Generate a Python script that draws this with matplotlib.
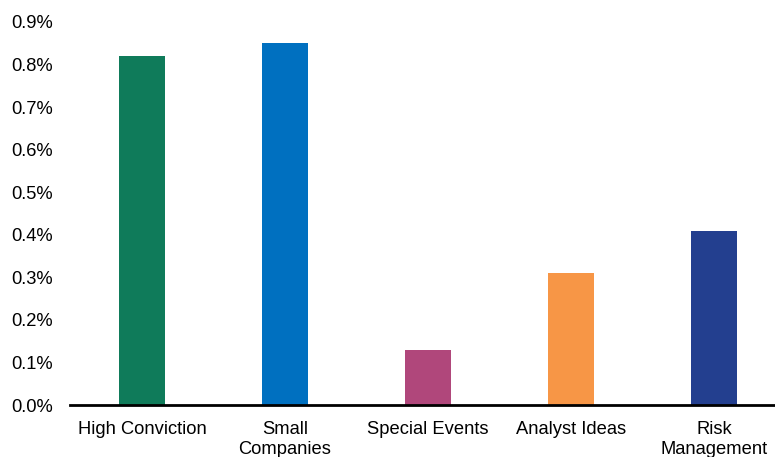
import matplotlib.pyplot as plt
from matplotlib.ticker import FuncFormatter

plt.rcParams['font.family'] = ['Liberation Sans', 'DejaVu Sans']

categories = ["High Conviction", "Small\nCompanies", "Special Events", "Analyst Ideas", "Risk\nManagement"]
values = [0.82, 0.85, 0.13, 0.31, 0.41]
colors = ["#0F7B5A", "#0070C0", "#B0477B", "#F79646", "#233F8F"]

W, H = 775, 457
fig = plt.figure(figsize=(W / 100, H / 100), dpi=100)
# axes spans past the right edge, like the original chart
ax = fig.add_axes([70.5 / W, 1 - 405 / H, 715 / W, (405 - 22) / H])

x = range(len(categories))
ax.bar(x, values, width=0.315, color=colors)
ax.set_xlim(-0.5, len(categories) - 0.5)
ax.set_ylim(0, 0.9)
ax.set_yticks([i / 10 for i in range(10)])
ax.yaxis.set_major_formatter(FuncFormatter(lambda v, _: f"{v:.1f}%"))
ax.set_xticks(list(x))
ax.set_xticklabels(categories, linespacing=1.25)

for s in ["top", "right", "left"]:
    ax.spines[s].set_visible(False)
ax.spines["bottom"].set_linewidth(2)
ax.tick_params(axis="both", length=0, labelsize=13.2, colors="#000000")
ax.tick_params(axis="y", pad=12.5)
ax.tick_params(axis="x", pad=11.5)

fig.savefig("out.png", dpi=100)
